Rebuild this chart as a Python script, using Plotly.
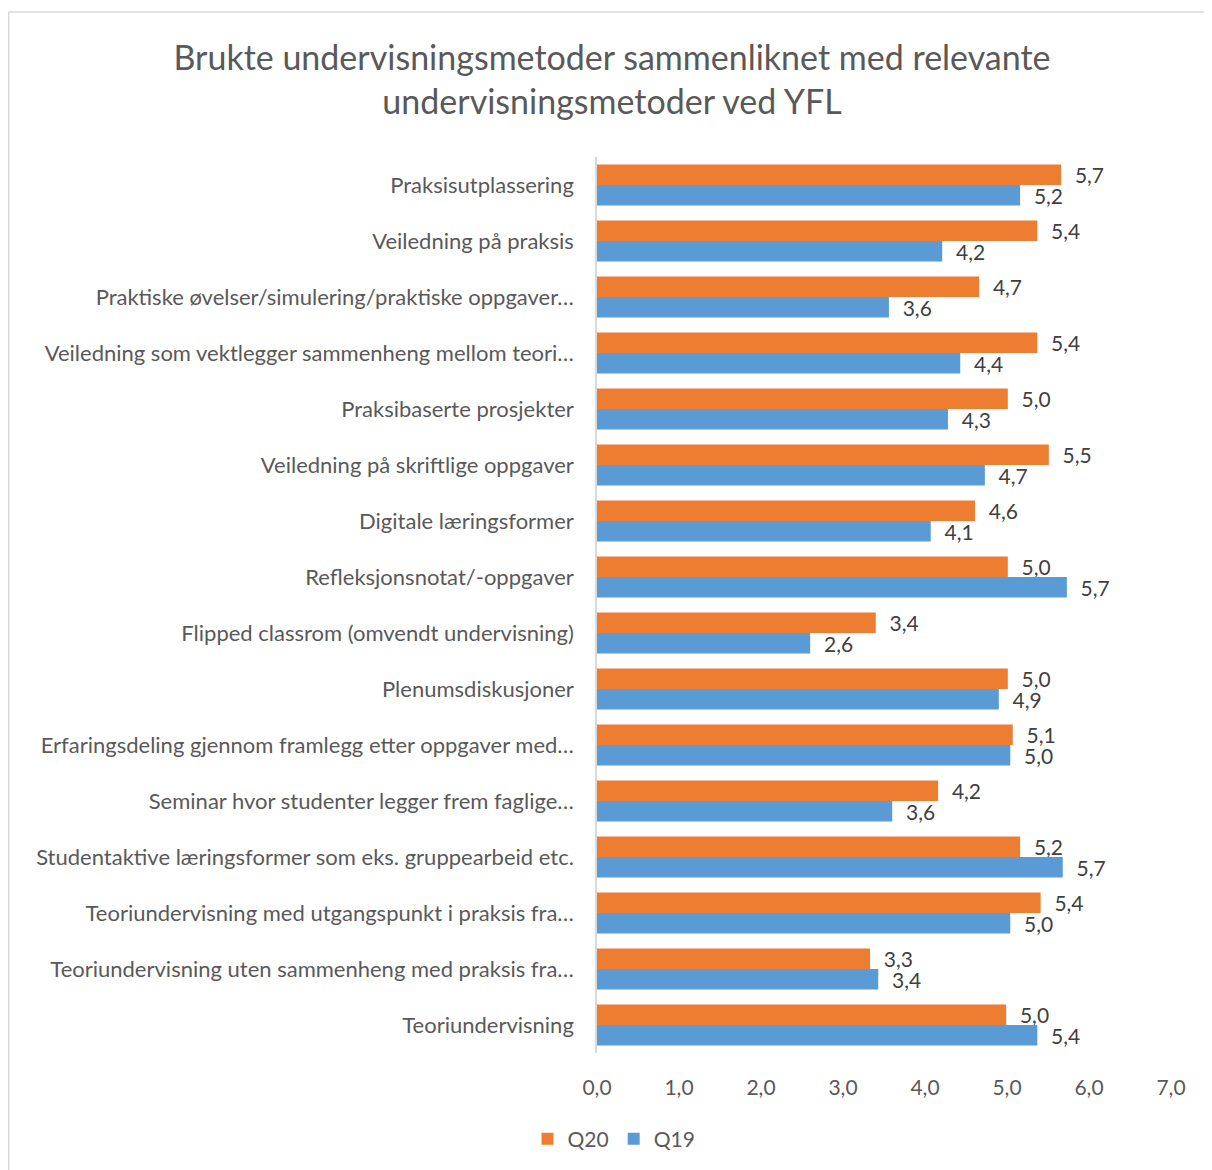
import plotly.graph_objects as go

categories = [
    "Praksisutplassering",
    "Veiledning på praksis",
    "Praktiske øvelser/simulering/praktiske oppgaver…",
    "Veiledning som vektlegger sammenheng mellom teori…",
    "Praksibaserte prosjekter",
    "Veiledning på skriftlige oppgaver",
    "Digitale læringsformer",
    "Refleksjonsnotat/-oppgaver",
    "Flipped classrom (omvendt undervisning)",
    "Plenumsdiskusjoner",
    "Erfaringsdeling gjennom framlegg etter oppgaver med…",
    "Seminar hvor studenter legger frem faglige…",
    "Studentaktive læringsformer som eks. gruppearbeid etc.",
    "Teoriundervisning med utgangspunkt i praksis fra…",
    "Teoriundervisning uten sammenheng med praksis fra…",
    "Teoriundervisning",
]

q20 = [5.66, 5.37, 4.66, 5.37, 5.01, 5.51, 4.61, 5.01, 3.40, 5.01, 5.07, 4.16, 5.16, 5.41, 3.33, 4.99]
q19 = [5.16, 4.21, 3.56, 4.43, 4.28, 4.73, 4.07, 5.73, 2.60, 4.90, 5.04, 3.60, 5.68, 5.04, 3.43, 5.37]

x_ticks = [0, 1, 2, 3, 4, 5, 6, 7]

font_family = "Lato, 'Open Sans', sans-serif"
grey = "#595959"

# plot area in figure pixels (page adds 8px body margin)
L, R, T, B = 589, 1163, 149, 1045
pw, ph = R - L, B - T

fig = go.Figure()
for name, vals, col in [("Q20", q20, "#ED7D31"), ("Q19", q19, "#5B9BD5")]:
    fig.add_trace(go.Bar(
        name=name, y=categories, x=vals, orientation="h",
        marker=dict(color=col, line=dict(width=0)),
        texttemplate="\u00a0\u00a0%{x:.1f}", textposition="outside",
        constraintext="none", cliponaxis=False,
        textfont=dict(size=21, color="#404040", family=font_family),
    ))

fig.update_layout(
    width=1212, height=1170,
    margin=dict(l=L, r=1212 - R, t=T, b=1170 - B),
    paper_bgcolor="white", plot_bgcolor="white",
    separators=", ",
    barmode="group", bargap=0.27, bargroupgap=0,
    font=dict(family=font_family, color=grey, size=21),
    title=dict(
        text="Brukte undervisningsmetoder sammenliknet med relevante<br>undervisningsmetoder ved YFL",
        x=604 / 1212, xref="container", xanchor="center",
        y=1 - 61.5 / 1170, yref="container", yanchor="middle",
        font=dict(size=34, color=grey, family=font_family),
    ),
    xaxis=dict(range=[0, 7], tickvals=x_ticks, tickformat=".1f",
               showgrid=False, zeroline=False, showline=False,
               ticks="", ticklabelstandoff=20,
               tickfont=dict(size=21, color=grey)),
    yaxis=dict(autorange="reversed", showline=True, linecolor="#d9d9d9",
               linewidth=1.5, ticks="", ticklabelstandoff=17,
               tickfont=dict(size=22, color=grey)),
    legend=dict(orientation="h", xref="container", x=606 / 1212, xanchor="center",
                yref="container", y=1 - 1131 / 1170, yanchor="middle",
                font=dict(size=21, color=grey), itemwidth=30, traceorder="normal"),
    shapes=[
        dict(type="line", xref="paper", yref="paper",
             x0=(0.75 - L) / pw, x1=(1212 - L) / pw,
             y0=(B - 4) / ph, y1=(B - 4) / ph,
             line=dict(color="#d9d9d9", width=1.5)),
        dict(type="line", xref="paper", yref="paper",
             x0=(0.75 - L) / pw, x1=(0.75 - L) / pw,
             y0=(B - 4) / ph, y1=(B - 1170) / ph,
             line=dict(color="#d9d9d9", width=1.5)),
    ],
)

fig.write_html("out.html")
